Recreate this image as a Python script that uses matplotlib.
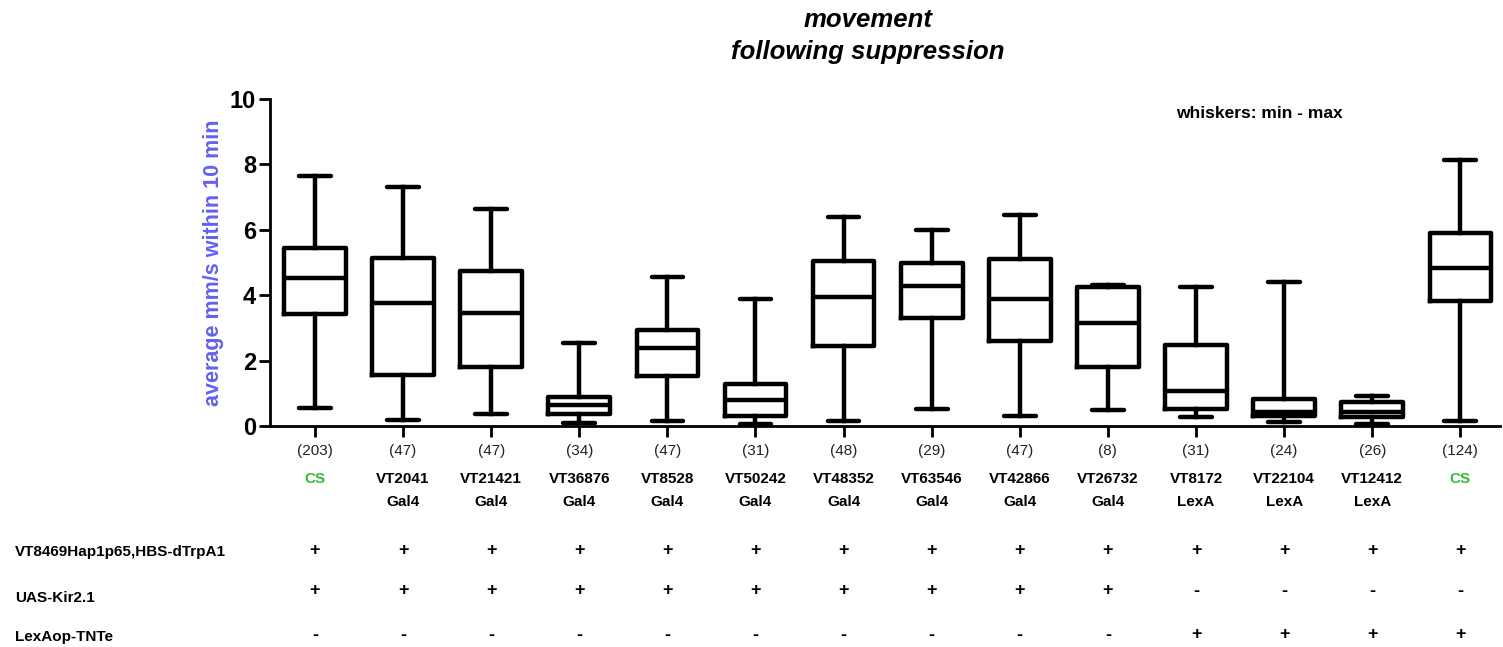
import numpy as np
import matplotlib
matplotlib.use("Agg")
import matplotlib.pyplot as plt
import matplotlib.transforms as mtransforms

plt.rcParams['font.family'] = ['Liberation Sans', 'DejaVu Sans']

# dados
linhas = ["CS", "VT2041\nGal4", "VT21421\nGal4", "VT36876\nGal4", "VT8528\nGal4",
          "VT50242\nGal4", "VT48352\nGal4", "VT63546\nGal4", "VT42866\nGal4",
          "VT26732\nGal4", "VT8172\nLexA", "VT22104\nLexA", "VT12412\nLexA", "CS"]
n_moscas = [203, 47, 47, 34, 47, 31, 48, 29, 47, 8, 31, 24, 26, 124]
minimos = [0.55, 0.17, 0.36, 0.10, 0.14, 0.07, 0.15, 0.51, 0.30, 0.48, 0.26, 0.13, 0.07, 0.15]
q1 = [3.41, 1.57, 1.79, 0.36, 1.52, 0.30, 2.44, 3.29, 2.59, 1.79, 0.53, 0.32, 0.26, 3.82]
medianas = [4.52, 3.75, 3.46, 0.63, 2.39, 0.81, 3.95, 4.29, 3.87, 3.14, 1.06, 0.42, 0.42, 4.84]
q3 = [5.43, 5.15, 4.75, 0.89, 2.95, 1.28, 5.05, 4.97, 5.10, 4.26, 2.49, 0.84, 0.72, 5.89]
maximos = [7.63, 7.31, 6.64, 2.54, 4.57, 3.89, 6.38, 5.99, 6.46, 4.31, 4.24, 4.39, 0.91, 8.14]

genotipos = ["VT8469Hap1p65,HBS-dTrpA1", "UAS-Kir2.1", "LexAop-TNTe"]
sinais_trpa1 = ["+"] * 14
sinais_kir = ["+"] * 10 + ["-"] * 4
sinais_tnte = ["-"] * 10 + ["+"] * 4

fig = plt.figure(figsize=(15.03, 6.47), dpi=100)
ax = fig.add_axes([270 / 1503, 221 / 647, 1230 / 1503, 327 / 647])

stats = []
for i in range(len(linhas)):
    stats.append({"whislo": minimos[i], "q1": q1[i], "med": medianas[i],
                  "q3": q3[i], "whishi": maximos[i]})

lw = 3.2
ax.bxp(stats, positions=np.arange(len(linhas)), widths=0.7, showfliers=False,
       boxprops=dict(linewidth=lw, color="black"),
       medianprops=dict(linewidth=lw, color="black"),
       whiskerprops=dict(linewidth=lw, color="black"),
       capprops=dict(linewidth=lw, color="black", solid_capstyle="round"),
       capwidths=0.36)

ax.set_xlim(-0.51, 13.45)
ax.set_ylim(0, 10)
ax.set_yticks([0, 2, 4, 6, 8, 10])
ax.set_xticks(np.arange(len(linhas)))
ax.set_xticklabels([])
for s in ["top", "right"]:
    ax.spines[s].set_visible(False)
ax.spines["left"].set_linewidth(2)
ax.spines["bottom"].set_linewidth(2)
ax.tick_params(axis="y", length=8, width=2, labelsize=17, pad=2)
ax.tick_params(axis="x", length=8, width=2)
for t in ax.get_yticklabels():
    t.set_fontweight("bold")

ax.set_ylabel("average mm/s within 10 min", color="#6262f0", fontsize=15.5,
              fontweight="bold", labelpad=4)

fig.text(868 / 1503, 1 - 20 / 647, "movement", ha="center", va="center",
         fontsize=18.5, fontweight="bold", fontstyle="italic")
fig.text(868 / 1503, 1 - 52 / 647, "following suppression", ha="center", va="center",
         fontsize=18.5, fontweight="bold", fontstyle="italic")
fig.text(1259 / 1503, 1 - 114 / 647, "whiskers: min - max", ha="center", va="center",
         fontsize=12.5, fontweight="bold")

# textos abaixo do eixo: x em dados, y em pixels da figura
trans = mtransforms.blended_transform_factory(ax.transData, fig.transFigure)
for i, lab in enumerate(linhas):
    ax.text(i, 1 - 451 / 647, f"({n_moscas[i]})", transform=trans, ha="center",
            va="center", fontsize=11, color="#222222")
    if lab == "CS":
        ax.text(i, 1 - 479 / 647, lab, transform=trans, ha="center", va="center",
                fontsize=11, fontweight="bold", color="#33bb33")
    else:
        l1, l2 = lab.split("\n")
        ax.text(i, 1 - 479 / 647, l1, transform=trans, ha="center", va="center",
                fontsize=11, fontweight="bold")
        ax.text(i, 1 - 502 / 647, l2, transform=trans, ha="center", va="center",
                fontsize=11, fontweight="bold")

linhas_y = [550, 591, 635]
nomes_y = [552, 598, 637]
for k, sinais in enumerate([sinais_trpa1, sinais_kir, sinais_tnte]):
    fig.text(15 / 1503, 1 - nomes_y[k] / 647, genotipos[k], ha="left", va="center",
             fontsize=11, fontweight="bold")
    for i, s in enumerate(sinais):
        ax.text(i, 1 - linhas_y[k] / 647, s, transform=trans, ha="center",
                va="center", fontsize=13, fontweight="bold")

fig.savefig("out.png", dpi=100)
